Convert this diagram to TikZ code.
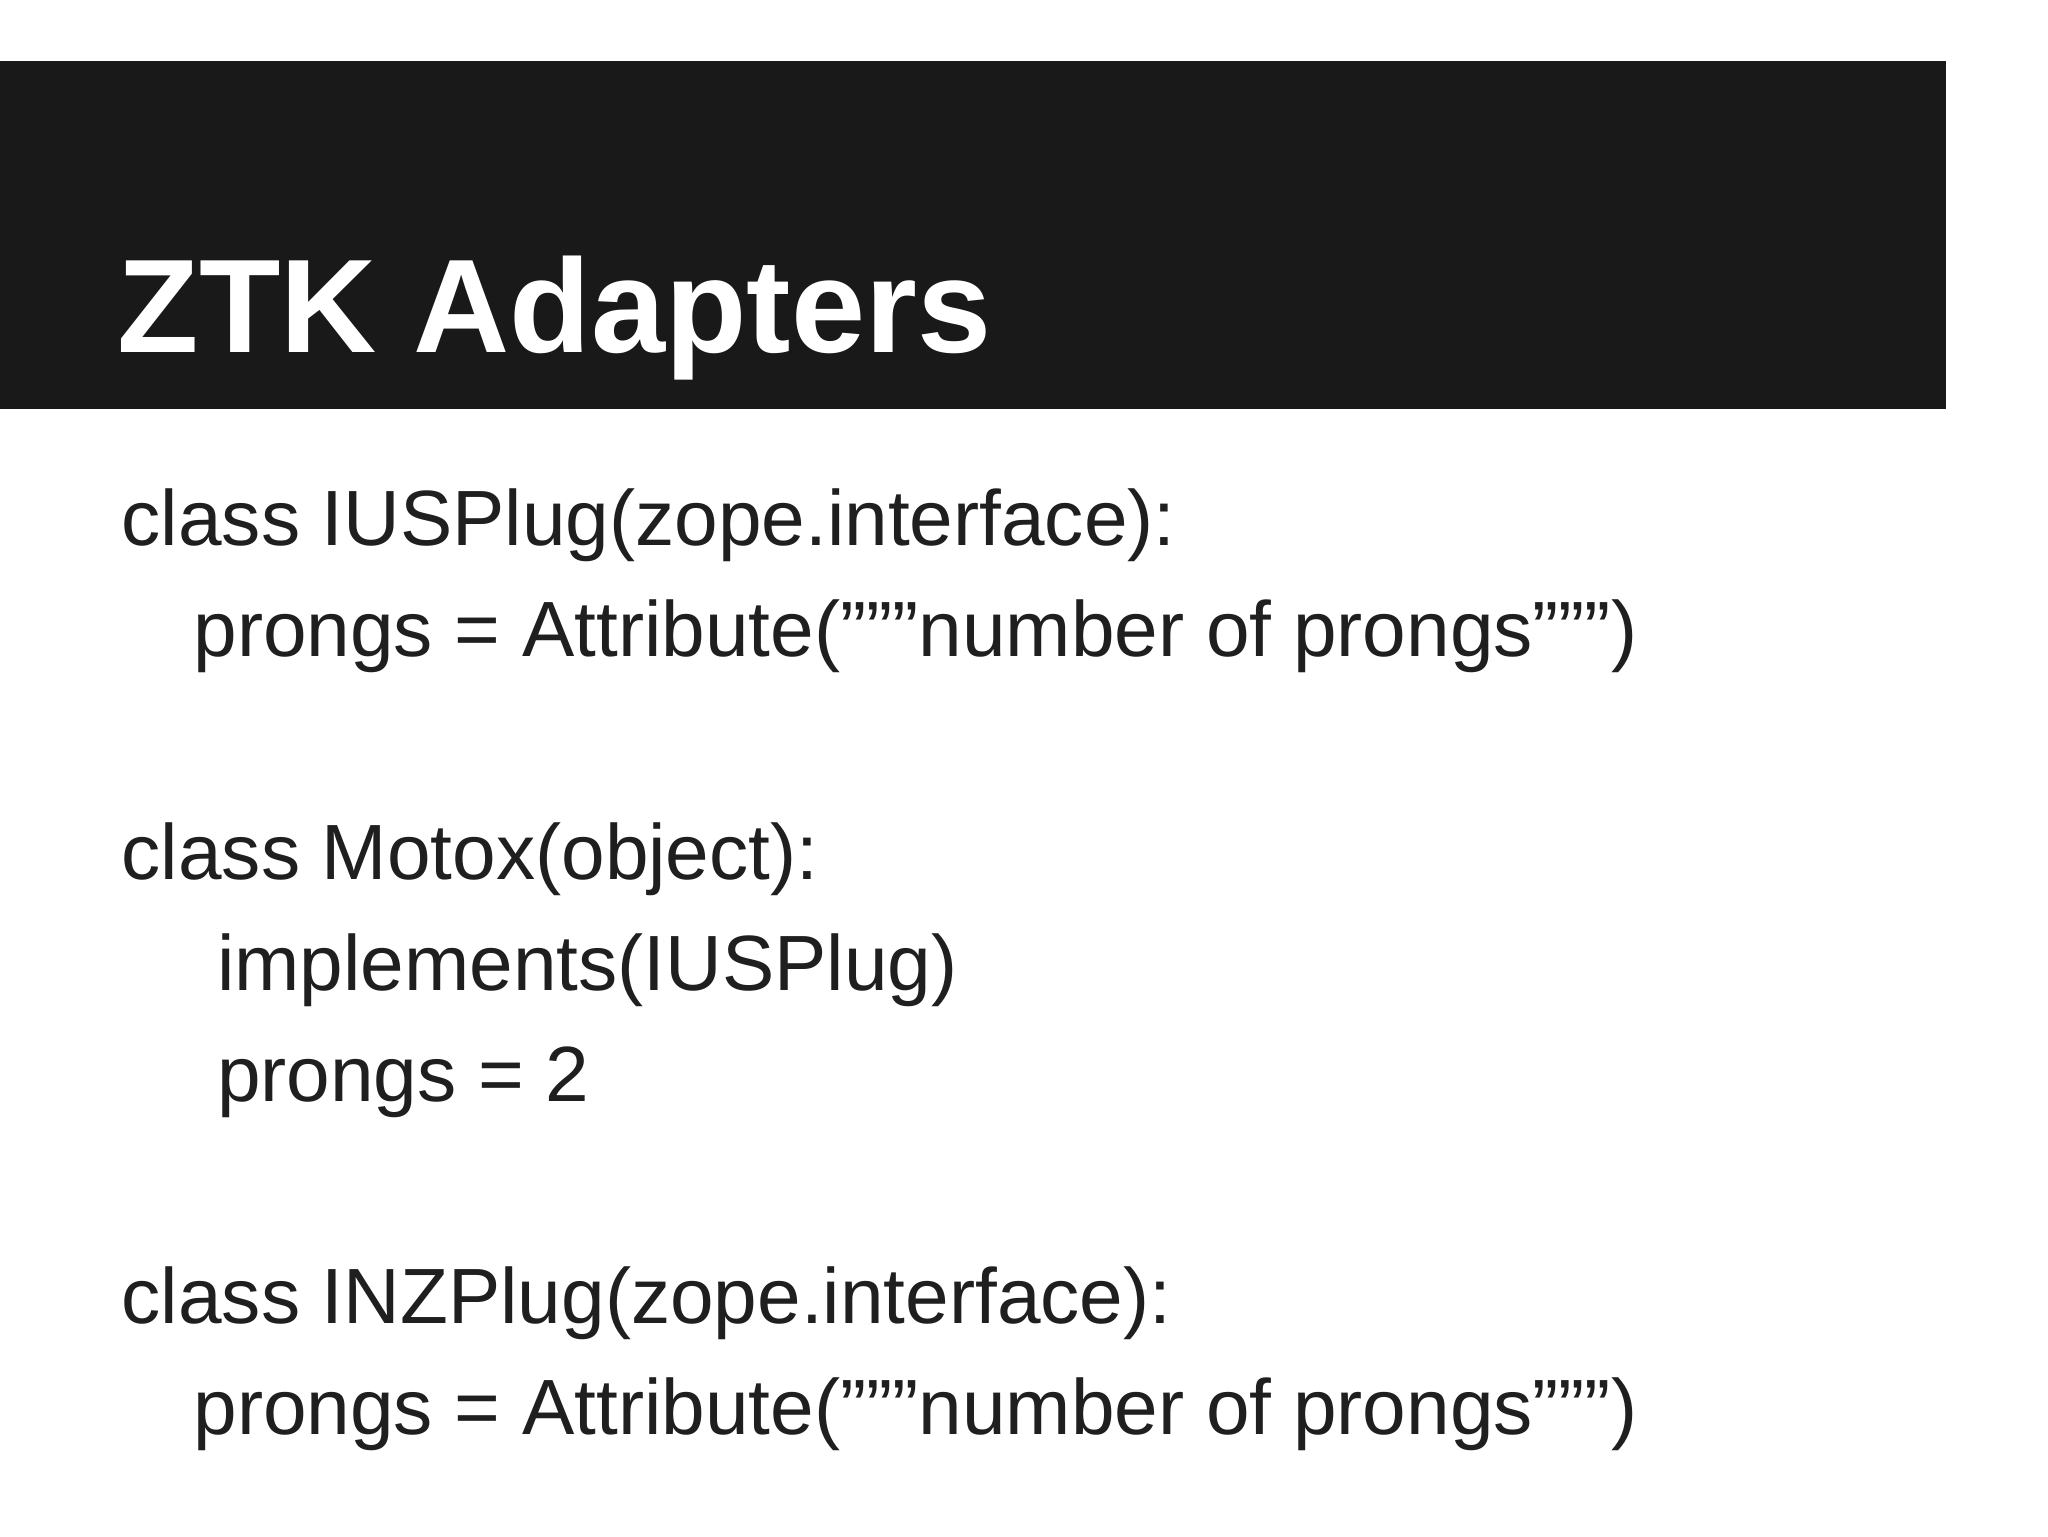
\documentclass[tikz,border=0pt]{standalone}
\usepackage{fontspec}
\setmainfont{Liberation Sans}
\begin{document}
\begin{tikzpicture}[x=1pt,y=1pt,
  body/.style={anchor=base west,inner sep=0pt,font=\fontsize{60}{60}\selectfont,text=black!88}]
\useasboundingbox (0,0) rectangle (1568,-1176);
\fill[white] (0,0) rectangle (1568,-1176);
\fill[black!90] (0,-47) rectangle (1490,-313);
\node[anchor=base west,inner sep=0pt,text=white,font=\fontsize{102}{102}\selectfont\bfseries] (title) at (90,-270) {ZTK Adapters};
\node[body] (l1) at (93,-418) {class IUSPlug(zope.interface):};
\node[body] (l2) at (148,-503) {prongs = Attribute("""number of prongs""")};
\node[body] (l3) at (93,-673) {class Motox(object):};
\node[body] (l4) at (166,-758) {implements(IUSPlug)};
\node[body] (l5) at (166,-843) {prongs = 2};
\node[body] (l6) at (93,-1013) {class INZPlug(zope.interface):};
\node[body] (l7) at (148,-1098) {prongs = Attribute("""number of prongs""")};
\end{tikzpicture}
\end{document}
